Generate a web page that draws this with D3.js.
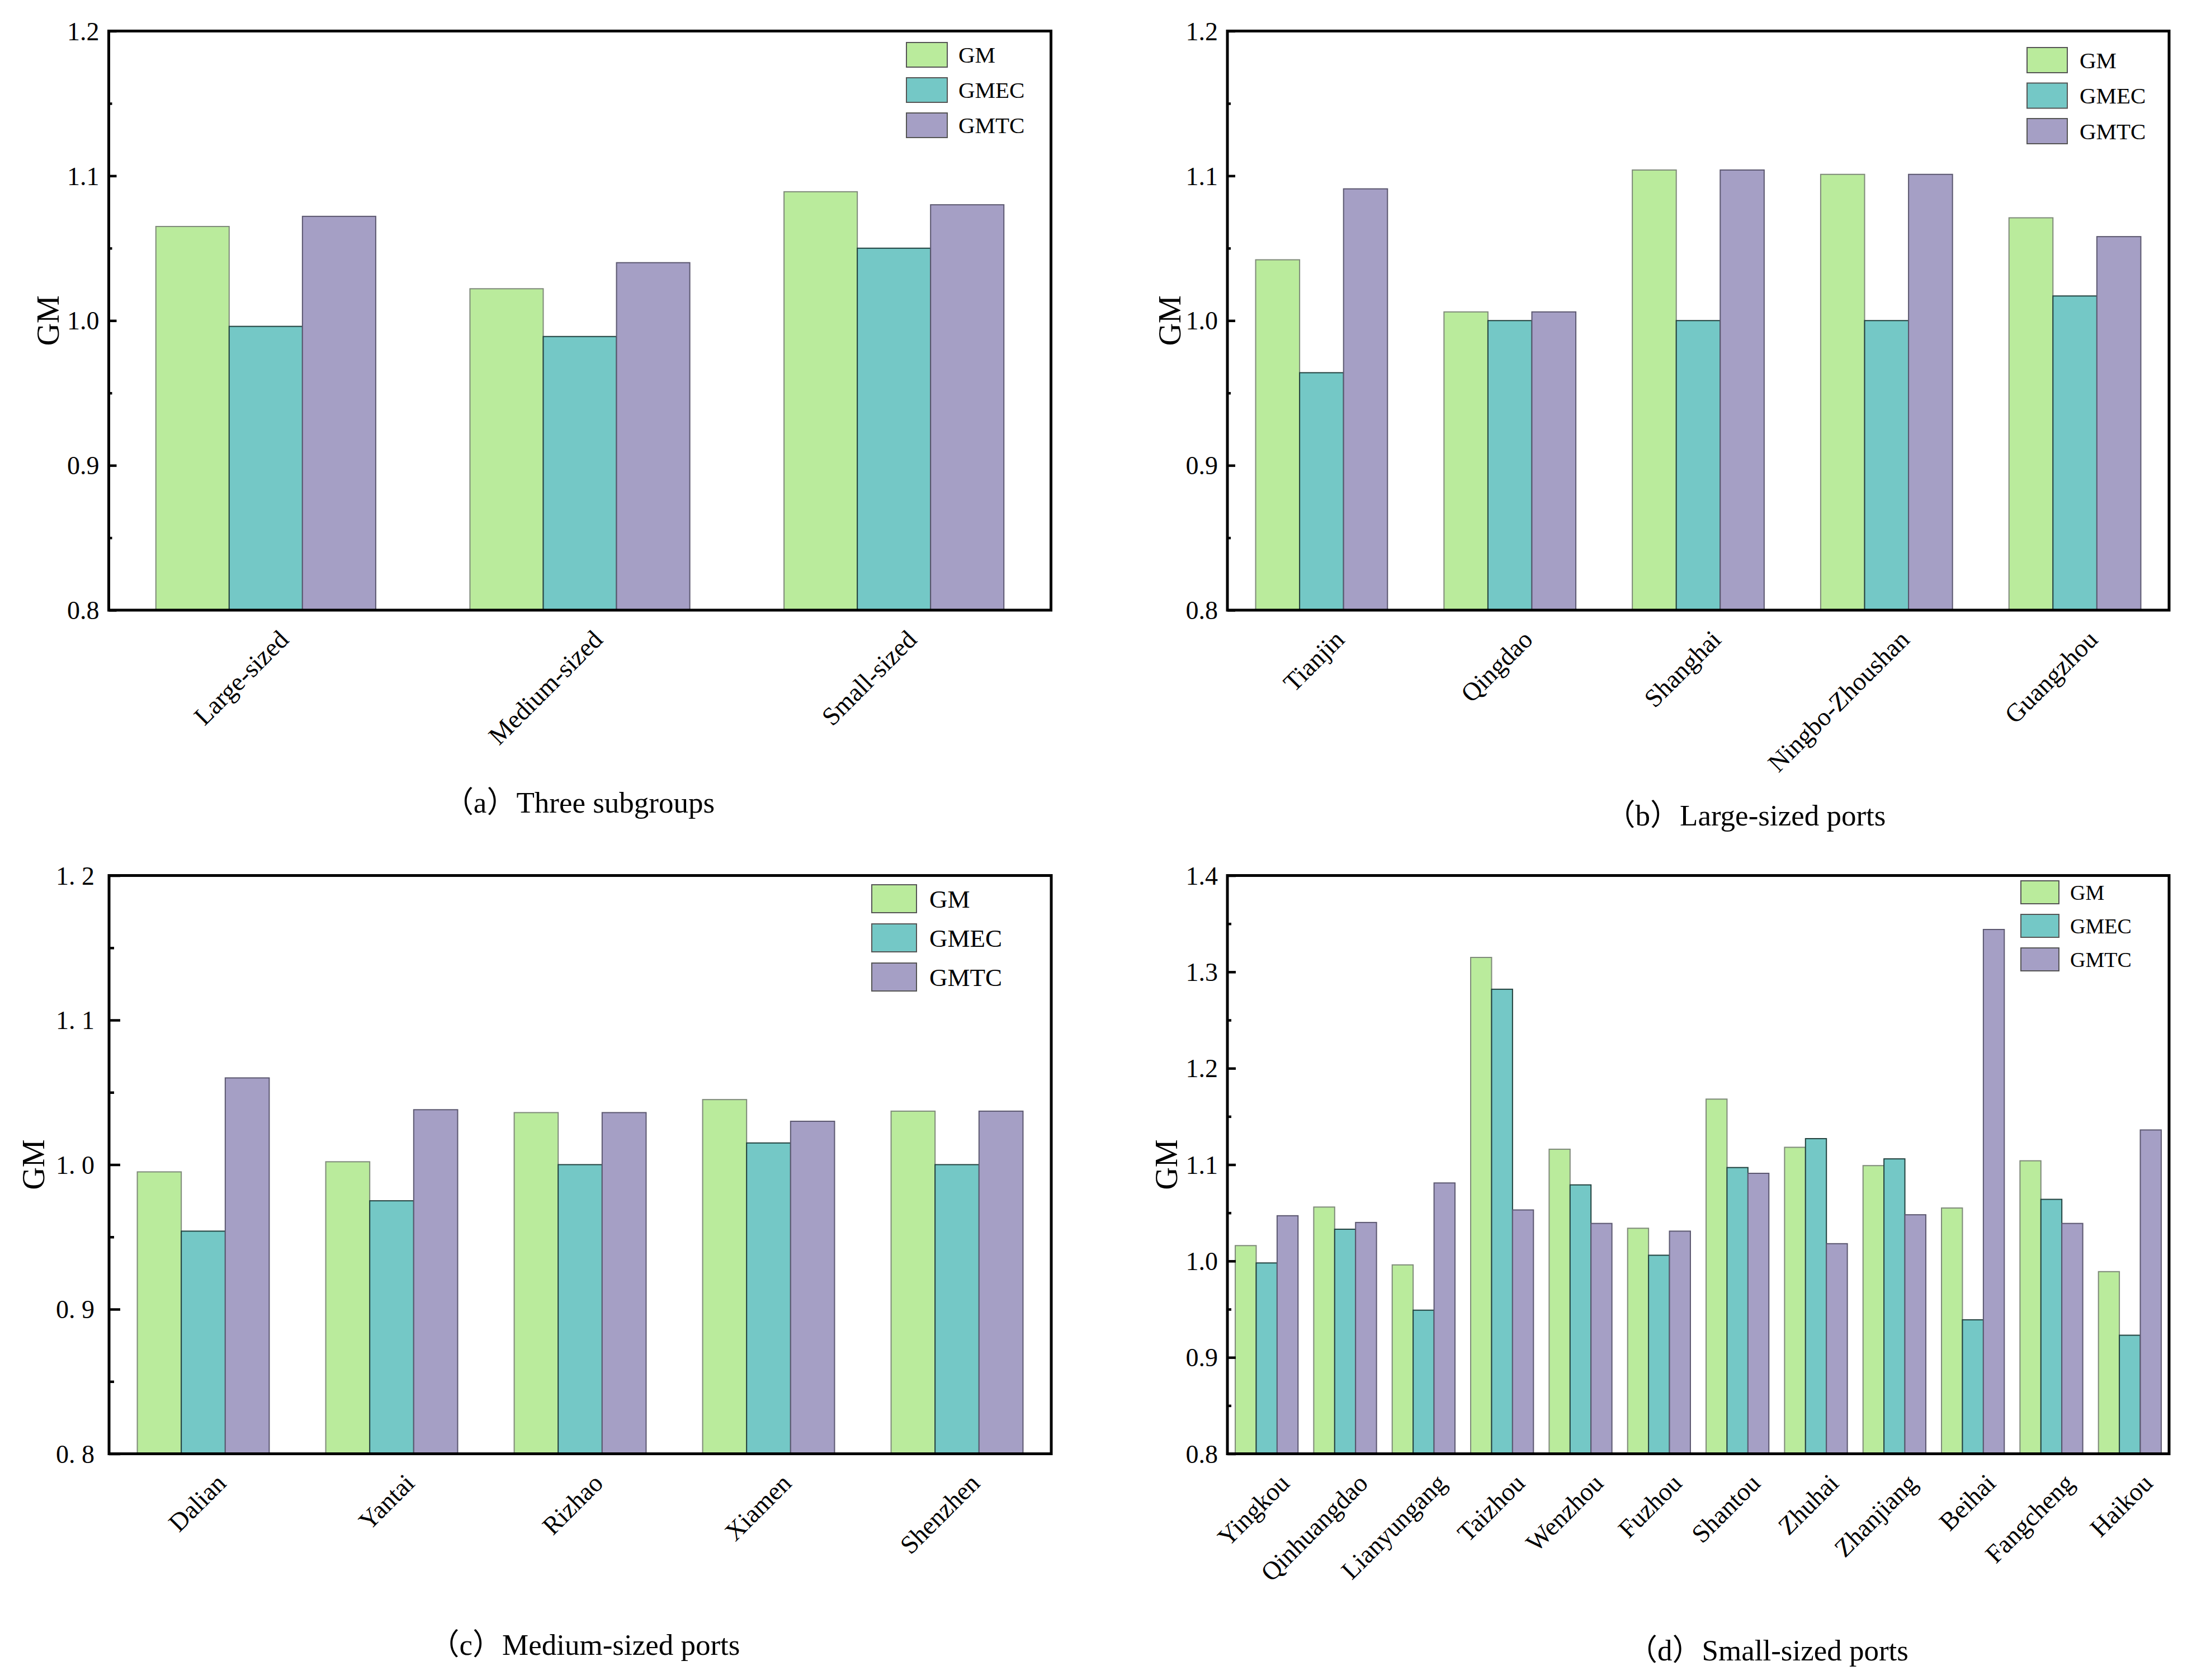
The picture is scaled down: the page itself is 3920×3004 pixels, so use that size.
<!DOCTYPE html>
<html>
<head>
<meta charset="utf-8">
<script src="https://cdnjs.cloudflare.com/ajax/libs/d3/7.8.5/d3.min.js"></script>
<style>
  html, body { margin: 0; padding: 0; background: #ffffff; }
  svg { display: block; }
</style>
</head>
<body>
<svg id="chart" width="3920" height="3004"></svg>
<script>
// ---------------- DATA ----------------
const seriesNames = ["GM", "GMEC", "GMTC"];

const catsA = ["Large-sized", "Medium-sized", "Small-sized"];
const gmA   = [1.065, 1.022, 1.089];
const gmecA = [0.996, 0.989, 1.050];
const gmtcA = [1.072, 1.040, 1.080];

const catsB = ["Tianjin", "Qingdao", "Shanghai", "Ningbo-Zhoushan", "Guangzhou"];
const gmB   = [1.042, 1.006, 1.104, 1.101, 1.071];
const gmecB = [0.964, 1.000, 1.000, 1.000, 1.017];
const gmtcB = [1.091, 1.006, 1.104, 1.101, 1.058];

const catsC = ["Dalian", "Yantai", "Rizhao", "Xiamen", "Shenzhen"];
const gmC   = [0.995, 1.002, 1.036, 1.045, 1.037];
const gmecC = [0.954, 0.975, 1.000, 1.015, 1.000];
const gmtcC = [1.060, 1.038, 1.036, 1.030, 1.037];

const catsD = ["Yingkou", "Qinhuangdao", "Lianyungang", "Taizhou", "Wenzhou", "Fuzhou",
               "Shantou", "Zhuhai", "Zhanjiang", "Beihai", "Fangcheng", "Haikou"];
const gmD   = [1.016, 1.056, 0.996, 1.315, 1.116, 1.034, 1.168, 1.118, 1.099, 1.055, 1.104, 0.989];
const gmecD = [0.998, 1.033, 0.949, 1.282, 1.079, 1.006, 1.097, 1.127, 1.106, 0.939, 1.064, 0.923];
const gmtcD = [1.047, 1.040, 1.081, 1.053, 1.039, 1.031, 1.091, 1.018, 1.048, 1.344, 1.039, 1.136];

const yTicksABC = [0.8, 0.9, 1.0, 1.1, 1.2];
const yMinorABC = [0.85, 0.95, 1.05, 1.15];
const yTicksD   = [0.8, 0.9, 1.0, 1.1, 1.2, 1.3, 1.4];
const yMinorD   = [0.85, 0.95, 1.05, 1.15, 1.25, 1.35];

const yTitle = "GM";
const captions = ["（a）Three subgroups", "（b）Large-sized ports",
                  "（c）Medium-sized ports", "（d）Small-sized ports"];

// ---------------- STYLE ----------------
const fills   = ["#BAEB9C", "#74C8C6", "#A59FC5"];
const strokes = ["#7f8a7a", "#23423f", "#5c5870"];
const FONT = "'Liberation Serif', 'Times New Roman', 'Noto Sans CJK SC', serif";

const fmtPlain = d => d3.format(".1f")(d);
const fmtWide  = d => d3.format(".1f")(d).replace(".", ". ");

const panels = [
  { cats: catsA, vals: [gmA, gmecA, gmtcA], ticks: yTicksABC, minor: yMinorABC,
    left: 194.5, right: 1879.5, top: 55.5, bottom: 1091,
    pin: 0.3, pout: 0.15, fmt: fmtPlain, tickLen: 14, minorLen: 6, tickPad: 17,
    ylabX: 85, cap: captions[0], capX: 1036, capY: 1434,
    leg: { x: 1621, y: 76, w: 73, h: 44, step: 63, tx: 1714, fs: 41 } },
  { cats: catsB, vals: [gmB, gmecB, gmtcB], ticks: yTicksABC, minor: yMinorABC,
    left: 2195, right: 3879, top: 55.5, bottom: 1091,
    pin: 0.3, pout: 0.15, fmt: fmtPlain, tickLen: 14, minorLen: 6, tickPad: 17,
    ylabX: 2091, cap: captions[1], capX: 3122, capY: 1457,
    leg: { x: 3625, y: 85, w: 72, h: 45, step: 63.5, tx: 3719, fs: 41 } },
  { cats: catsC, vals: [gmC, gmecC, gmtcC], ticks: yTicksABC, minor: yMinorABC,
    left: 195, right: 1880, top: 1565.5, bottom: 2599.5,
    pin: 0.3, pout: 0.15, fmt: fmtWide, tickLen: 20, minorLen: 9, tickPad: 26,
    ylabX: 59, cap: captions[2], capX: 1046, capY: 2940,
    leg: { x: 1559, y: 1582, w: 80, h: 50, step: 70, tx: 1662, fs: 45 } },
  { cats: catsD, vals: [gmD, gmecD, gmtcD], ticks: yTicksD, minor: yMinorD,
    left: 2195, right: 3879, top: 1565.5, bottom: 2599.5,
    pin: 0.2, pout: 0.1, fmt: fmtPlain, tickLen: 15, minorLen: 7, tickPad: 17,
    ylabX: 2085, cap: captions[3], capX: 3162, capY: 2950,
    leg: { x: 3614, y: 1575, w: 68, h: 41, step: 60, tx: 3702, fs: 38 } }
];

const svg = d3.select("#chart");
svg.append("rect").attr("width", 3920).attr("height", 3004).attr("fill", "#fff");

panels.forEach(p => {
  const g = svg.append("g");
  const x0 = d3.scaleBand().domain(p.cats).range([p.left, p.right])
               .paddingInner(p.pin).paddingOuter(p.pout);
  const x1 = d3.scaleBand().domain(seriesNames).range([0, x0.bandwidth()]).padding(0);
  const y = d3.scaleLinear().domain([p.ticks[0], p.ticks[p.ticks.length - 1]])
              .range([p.bottom, p.top]);

  // bars
  seriesNames.forEach((s, si) => {
    g.append("g").selectAll("rect").data(p.cats).join("rect")
      .attr("x", c => x0(c) + x1(s))
      .attr("width", x1.bandwidth())
      .attr("y", (c, i) => y(p.vals[si][i]))
      .attr("height", (c, i) => y(y.domain()[0]) - y(p.vals[si][i]))
      .attr("fill", fills[si])
      .attr("stroke", strokes[si])
      .attr("stroke-width", 2);
  });

  // y axis major ticks (inward)
  const ya = g.append("g").attr("transform", `translate(${p.left},0)`)
    .call(d3.axisLeft(y).tickValues(p.ticks).tickFormat(p.fmt)
          .tickSizeInner(-p.tickLen).tickSizeOuter(0).tickPadding(p.tickPad));
  ya.select(".domain").remove();
  ya.selectAll(".tick line").attr("stroke", "#000").attr("stroke-width", 4.5);
  ya.selectAll(".tick text").attr("font-family", FONT).attr("font-size", 46)
    .attr("fill", "#000").attr("dy", "0.34em");

  // minor ticks
  const ym = g.append("g").attr("transform", `translate(${p.left},0)`)
    .call(d3.axisLeft(y).tickValues(p.minor).tickFormat("")
          .tickSizeInner(-p.minorLen).tickSizeOuter(0));
  ym.select(".domain").remove();
  ym.selectAll(".tick line").attr("stroke", "#000").attr("stroke-width", 4.5);

  // x axis labels
  const xa = g.append("g").attr("transform", `translate(0,${p.bottom})`)
    .call(d3.axisBottom(x0).tickSize(0));
  xa.select(".domain").remove();
  xa.selectAll(".tick text")
    .attr("font-family", FONT).attr("font-size", 46).attr("fill", "#000")
    .attr("text-anchor", "end")
    .attr("x", 0).attr("y", 0).attr("dy", "0.35em")
    .attr("transform", "translate(32,44) rotate(-45)");

  // frame
  g.append("rect")
    .attr("x", p.left).attr("y", p.top)
    .attr("width", p.right - p.left).attr("height", p.bottom - p.top)
    .attr("fill", "none").attr("stroke", "#000").attr("stroke-width", 5);

  // y title
  g.append("text")
    .attr("transform", `translate(${p.ylabX},${(p.top + p.bottom) / 2}) rotate(-90)`)
    .attr("text-anchor", "middle").attr("dy", "0.35em")
    .attr("font-family", FONT).attr("font-size", 56).attr("fill", "#000")
    .text(yTitle);

  // legend
  const lg = g.append("g");
  seriesNames.forEach((s, si) => {
    lg.append("rect")
      .attr("x", p.leg.x).attr("y", p.leg.y + si * p.leg.step)
      .attr("width", p.leg.w).attr("height", p.leg.h)
      .attr("fill", fills[si]).attr("stroke", "#555").attr("stroke-width", 2);
    lg.append("text")
      .attr("x", p.leg.tx).attr("y", p.leg.y + si * p.leg.step + p.leg.h / 2)
      .attr("dy", "0.35em")
      .attr("font-family", FONT).attr("font-size", p.leg.fs).attr("fill", "#000")
      .text(s);
  });

  // caption
  g.append("text")
    .attr("x", p.capX).attr("y", p.capY).attr("dy", "0.35em")
    .attr("text-anchor", "middle")
    .attr("font-family", FONT).attr("font-size", 53).attr("fill", "#000")
    .text(p.cap);
});
</script>
</body>
</html>
